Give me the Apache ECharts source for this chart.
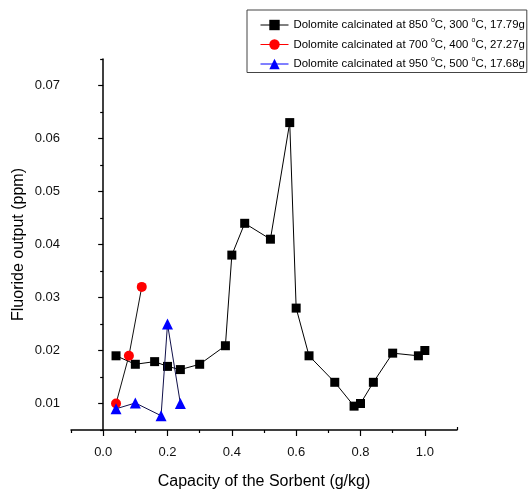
<!DOCTYPE html>
<html><head><meta charset="utf-8">
<script src="https://cdn.jsdelivr.net/npm/echarts@6/dist/echarts.min.js"></script>
<style>html,body{margin:0;padding:0;background:#fff}#c{width:532px;height:490px}</style>
</head><body><div id="c"></div>
<script>
// ---- data ----
const seriesNames = [
  'Dolomite calcinated at 850 °C, 300 °C, 17.79g',
  'Dolomite calcinated at 700 °C, 400 °C, 27.27g',
  'Dolomite calcinated at 950 °C, 500 °C, 17.68g'
];
const blackX = [0.04, 0.10, 0.16, 0.20, 0.24, 0.30, 0.38, 0.40, 0.44, 0.52, 0.58, 0.60, 0.64, 0.72, 0.78, 0.80, 0.84, 0.90, 0.98, 1.00];
const blackY = [0.019, 0.0174, 0.0179, 0.0170, 0.0164, 0.0174, 0.0209, 0.038, 0.044, 0.041, 0.063, 0.028, 0.019, 0.014, 0.0095, 0.0100, 0.014, 0.0195, 0.019, 0.020];
const redX = [0.04, 0.08, 0.12];
const redY = [0.010, 0.019, 0.032];
const blueX = [0.04, 0.10, 0.18, 0.20, 0.24];
const blueY = [0.009, 0.0101, 0.0077, 0.025, 0.010];
const xMajorTicks = [0.0, 0.2, 0.4, 0.6, 0.8, 1.0];
const xMinorTicks = [-0.1, 0.1, 0.3, 0.5, 0.7, 0.9];
const xEndTick = [1.1];
const yMajorTicks = [0.01, 0.02, 0.03, 0.04, 0.05, 0.06, 0.07];
const yMinorTicks = [0.005, 0.015, 0.025, 0.035, 0.045, 0.055, 0.065, 0.075];

function pairs(xs, ys) { return xs.map((x, i) => [x, ys[i]]); }

const chart = echarts.init(document.getElementById('c'), null, {renderer: 'canvas'});
const FONT = 'Liberation Sans, Arial, sans-serif';
const legendLabel = (name) => {
  const m = name.match(/^(.*?) (\d+) °C, (\d+) °C, (.*)$/);
  if (!m) return name;
  return '{n|' + m[1] + ' ' + m[2] + ' }{s|o}{n|C, ' + m[3] + ' }{s|o}{n|C, ' + m[4] + '}';
};
const X_MIN = -0.1, X_MAX = 1.1, Y_MIN = 0.005, Y_MAX = 0.075;
const tickStyle = {color: '#000', width: 1.2};
chart.setOption({
  animation: false,
  backgroundColor: '#fff',
  grid: {left: 71, right: 75, top: 59, bottom: 60, containLabel: false, outerBoundsMode: 'none'},
  legend: {
    show: true,
    orient: 'vertical',
    left: 247, top: 10,
    padding: [7, 2, 3, 13],
    itemGap: 6,
    itemWidth: 28, itemHeight: 13,
    borderColor: '#444', borderWidth: 1,
    backgroundColor: '#fff',
    formatter: legendLabel,
    textStyle: {
      fontFamily: FONT, color: '#000', fontSize: 11.4,
      rich: {
        n: {fontFamily: FONT, fontSize: 11.4, color: '#000', lineHeight: 16},
        s: {fontFamily: FONT, fontSize: 7, color: '#000', lineHeight: 10, verticalAlign: 'top'}
      }
    },
    data: [
      {name: seriesNames[0], itemStyle: {color: '#000'}, lineStyle: {color: '#000', width: 1}},
      {name: seriesNames[1], itemStyle: {color: '#ff0000'}, lineStyle: {color: '#ff0000', width: 1}},
      {name: seriesNames[2], itemStyle: {color: '#0000ff'}, lineStyle: {color: '#0000ff', width: 1}}
    ]
  },
  xAxis: [
    {
      type: 'value', min: X_MIN, max: X_MAX, interval: 0.1,
      axisLine: {show: true, lineStyle: {color: '#000', width: 1.5}}, splitLine: {show: false},
      name: 'Capacity of the Sorbent (g/kg)', nameLocation: 'middle', nameGap: 44,
      nameMoveOverlap: false,
      nameTextStyle: {fontFamily: FONT, fontSize: 16, color: '#000'},
      axisTick: {show: true, inside: false, length: 6, lineStyle: tickStyle, customValues: xMajorTicks},
      axisLabel: {show: true, fontFamily: FONT, fontSize: 13, color: '#111', margin: 16,
        customValues: xMajorTicks, formatter: v => v.toFixed(1)}
    },
    {
      type: 'value', min: X_MIN, max: X_MAX, interval: 0.1, position: 'bottom',
      axisLine: {show: false}, splitLine: {show: false},
      axisTick: {show: true, length: 3, lineStyle: tickStyle, customValues: xMinorTicks},
      axisLabel: {show: false}
    },
    {
      type: 'value', min: X_MIN, max: X_MAX, interval: 0.1, position: 'bottom',
      axisLine: {show: false}, splitLine: {show: false},
      axisTick: {show: true, inside: true, length: 3, lineStyle: tickStyle, customValues: xEndTick},
      axisLabel: {show: false}
    }
  ],
  yAxis: [
    {
      type: 'value', min: Y_MIN, max: Y_MAX, interval: 0.005,
      axisLine: {show: true, lineStyle: {color: '#000', width: 1.5}}, splitLine: {show: false},
      name: 'Fluoride output (ppm)', nameLocation: 'middle', nameGap: 44,
      nameMoveOverlap: false,
      nameTextStyle: {fontFamily: FONT, fontSize: 16, color: '#000'},
      axisTick: {show: true, length: 5, lineStyle: tickStyle, customValues: yMajorTicks},
      axisLabel: {show: true, fontFamily: FONT, fontSize: 13, color: '#111', margin: 11,
        customValues: yMajorTicks, formatter: v => v.toFixed(2)}
    },
    {
      type: 'value', min: Y_MIN, max: Y_MAX, interval: 0.005, position: 'left',
      axisLine: {show: false}, splitLine: {show: false},
      axisTick: {show: true, length: 3, lineStyle: tickStyle, customValues: yMinorTicks},
      axisLabel: {show: false}
    }
  ],
  series: [
    {name: seriesNames[0], type: 'line', data: pairs(blackX, blackY), symbol: 'rect', symbolSize: 9,
      itemStyle: {color: '#000'}, lineStyle: {color: '#000', width: 1}, z: 2},
    {name: seriesNames[1], type: 'line', data: pairs(redX, redY), symbol: 'circle', symbolSize: 10,
      itemStyle: {color: '#ff0000'}, lineStyle: {color: '#111', width: 1}, z: 3},
    {name: seriesNames[2], type: 'line', data: pairs(blueX, blueY), symbol: 'triangle', symbolSize: 11,
      itemStyle: {color: '#0000ff'}, lineStyle: {color: '#10104a', width: 1}, z: 4}
  ]
});
</script></body></html>
